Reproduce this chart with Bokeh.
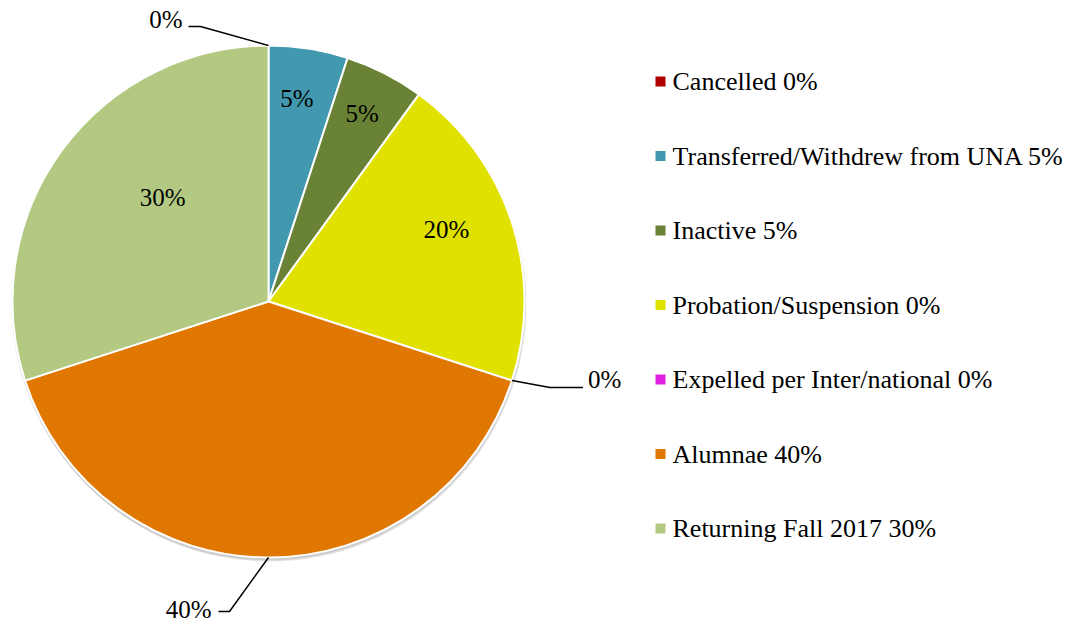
import math
from bokeh.plotting import figure
from bokeh.models import Range1d, ColumnDataSource, Label
from bokeh.core.properties import value
from bokeh.embed import file_html
from bokeh.resources import INLINE

# ---------------- data ----------------
categories = ["Cancelled", "Transferred/Withdrew from UNA", "Inactive",
              "Probation/Suspension", "Expelled per Inter/national",
              "Alumnae", "Returning Fall 2017"]
slice_values = [0, 5, 5, 20, 0, 40, 30]
legend_pcts = ["0%", "5%", "5%", "0%", "0%", "40%", "30%"]
colors = ["#B00000", "#4298AF", "#6A8236", "#E1E100", "#E01FE0", "#E07700", "#B3C982"]

# ---------------- layout ----------------
W, H = 1084, 624
FONT = "Liberation Serif"


def sx(x):
    return x


def sy(y):
    return H - y


CX, CY, R = sx(268), sy(301), 256

label_layout = [
    ("out", -68, -19, -12, 6, -7, "right"),
    ("in", 0.80, -1.0),
    ("in", 0.82, -0.5),
    ("in", 0.75, -4.0),
    ("out", 38, 7, 33, 5, -8, "left"),
    ("out", -39, 54, -11, 7, -2, "right"),
    ("in", 0.58, 8.5),
]

p = figure(width=W, height=H, output_backend="svg", toolbar_location=None,
           x_range=Range1d(0, W), y_range=Range1d(0, H), min_border=0,
           outline_line_color=None)
p.axis.visible = False
p.grid.visible = False

total = float(sum(slice_values))
starts, ends, mids = [], [], []
cum = 0.0
for v in slice_values:
    a0 = cum / total
    a1 = (cum + v) / total
    starts.append(math.pi / 2 - 2 * math.pi * a0)
    ends.append(math.pi / 2 - 2 * math.pi * a1)
    mids.append(360.0 * (a0 + a1) / 2)
    cum += v

# legend texts (as annotations)
LEG_X, LEG_Y0, LEG_DY = sx(660), sy(81), 74.5
leg_y = [LEG_Y0 - k * LEG_DY for k in range(len(categories))]
for k, (c, pc) in enumerate(zip(categories, legend_pcts)):
    p.add_layout(Label(x=sx(672), y=leg_y[k], text=f"{c} {pc}",
                       text_font=FONT, text_font_size="26px",
                       text_align="left", text_baseline="middle",
                       text_color="black"))

# shadow
p.circle(x=[CX + 1], y=[CY - 3], radius=R + 1, fill_color="black",
         fill_alpha=0.10, line_color=None)
p.circle(x=[CX], y=[CY - 2], radius=R + 1, fill_color="black",
         fill_alpha=0.10, line_color=None)

idx = [i for i, v in enumerate(slice_values) if v > 0]
src = ColumnDataSource(dict(
    start=[starts[i] for i in idx], end=[ends[i] for i in idx],
    color=[colors[i] for i in idx]))
p.wedge(x=CX, y=CY, radius=R, radius_units="screen", start_angle="start",
        end_angle="end", direction="clock", fill_color="color",
        line_color="white", line_width=2, source=src)

# slice labels
lx, ly, lt, la = [], [], [], []
for i, v in enumerate(slice_values):
    lay = label_layout[i]
    txt = f"{v}%"
    th = math.radians(mids[i])
    if lay[0] == "in":
        f, dth = lay[1], math.radians(lay[2])
        lx.append(CX + f * R * math.sin(th + dth))
        ly.append(CY + f * R * math.cos(th + dth))
        lt.append(txt)
        la.append("center")
    else:
        _, edx, edy, hl, gap, tdy, align = lay
        ax = CX + R * math.sin(th)
        ay = CY + R * math.cos(th)
        ex, ey = ax + edx, ay - edy
        hx = ex + hl
        p.line(x=[ax, ex, hx], y=[ay, ey, ey], line_color="black", line_width=1.5)
        lx.append(hx + (gap if align == "left" else -gap))
        ly.append(ey - tdy)
        lt.append(txt)
        la.append(align)

lsrc = ColumnDataSource(dict(x=lx, y=ly, text=lt, align=la))
p.text(x="x", y="y", text="text", text_align="align", source=lsrc,
       text_font=value(FONT), text_font_size="25px", text_baseline="middle",
       text_color="black")

# legend squares
p.scatter(x=[LEG_X] * len(categories), y=leg_y, marker="square", size=10,
          fill_color=colors, line_color=None)

open("out.html", "w").write(file_html(p, INLINE))
